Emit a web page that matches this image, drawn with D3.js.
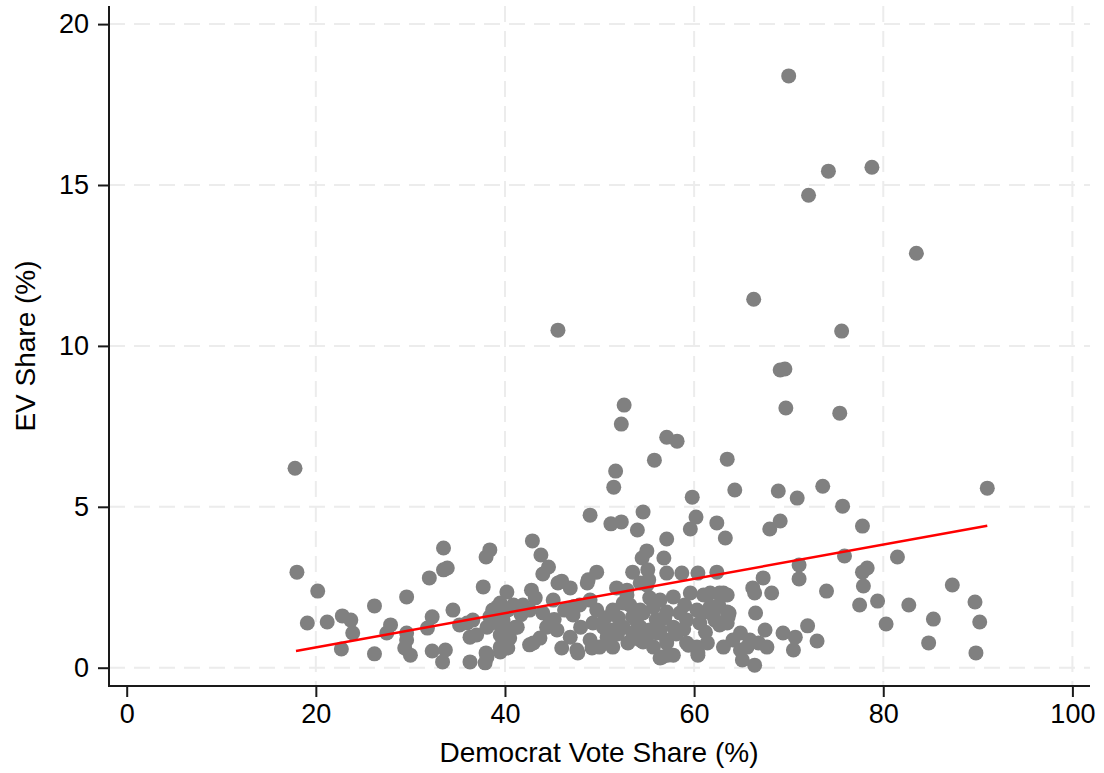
<!DOCTYPE html>
<html lang="en">
<head>
<meta charset="UTF-8">
<title>EV Share vs Democrat Vote Share</title>
<script src="https://d3js.org/d3.v7.min.js"></script>
<style>
  body { margin: 0; background: #fff; }
  svg text { font-family: "Liberation Sans", Arial, Helvetica, sans-serif; fill: #000; }
</style>
</head>
<body>
<div id="chart"></div>
<script>
// Democrat vote share (%) and EV share (%)
var demShare = [
  17.8, 18.0, 20.2, 19.1, 21.2, 22.8, 23.7, 23.9, 22.7, 26.2, 26.2, 27.9, 27.5, 29.6, 29.6, 29.6, 29.4, 30.0,
  31.8, 32.3, 32.3, 32.0, 33.5, 33.9, 33.5, 33.7, 33.4, 34.5, 35.2, 36.0, 36.6, 36.3, 37.0, 36.3, 37.9, 38.0,
  37.7, 38.0, 38.4, 39.5, 40.3, 38.4, 39.2, 39.8, 40.3, 41.1, 40.5, 39.5, 40.2,
  42.9, 43.8, 44.6, 44.0, 46.0, 46.9, 45.6, 42.8, 48.8, 49.7, 49.0, 51.2, 52.3, 54.6, 54.0, 57.1, 55.0, 54.5,
  56.8, 53.5, 55.1, 55.2, 57.1, 58.7, 60.4, 62.4, 51.8, 52.9, 52.6, 52.3, 57.1, 58.2, 55.8, 51.7, 51.5, 59.8,
  60.2, 59.6, 62.4, 63.3, 45.6,
  43.2, 48.7, 55.0, 52.9, 39.5, 38.7, 40.9, 41.9, 38.1, 39.2, 40.2, 41.3, 42.6, 44.0, 45.1, 46.3, 47.2, 44.4,
  45.5, 46.9, 48.0, 43.0, 43.7, 46.0, 47.6, 39.5, 38.1, 49.0, 49.7, 50.4, 49.3, 49.0, 50.0, 51.4, 52.5, 53.5,
  54.6, 55.7, 51.4, 52.5, 53.5, 55.0, 56.1, 51.4, 53.0, 54.6, 55.7, 56.4, 49.2, 47.7, 56.6, 57.2, 57.1, 59.4,
  60.4,
  54.3, 55.3, 56.4, 57.8, 59.6, 61.0, 63.1, 54.3, 57.1, 58.5, 60.3, 61.7, 63.5, 54.3, 55.3, 56.4, 57.8, 59.2,
  60.6, 62.2, 63.6, 54.3, 57.1, 59.2, 60.3, 61.4, 63.1, 64.1, 64.9, 65.9, 66.8, 67.5, 57.8, 60.4, 65.1, 66.4,
  65.6, 64.9,
  63.5, 64.3, 68.9, 70.9, 73.6, 75.7, 91.0, 68.0, 69.1, 77.8, 71.1, 71.1, 75.9, 81.5, 77.8, 78.3, 77.9, 74.0,
  67.3, 66.2, 66.4, 68.2, 61.7, 62.7, 63.5, 60.9, 62.0, 63.7, 62.7, 63.5, 66.5, 77.5, 79.4, 82.7, 87.3, 89.7,
  80.3, 85.3, 90.2, 72.0, 69.4, 70.7, 70.5, 73.0, 84.8, 89.8, 67.7,
  70.0, 78.8, 74.2, 72.1, 83.5, 66.3, 75.6, 69.6, 69.1, 69.7, 75.4, 42.6,
  44.8, 47.9, 50.6, 51.9, 53.9, 56.9, 58.1, 59.0, 61.2, 62.6, 50.8, 52.0, 53.2, 56.0, 58.9, 47.3, 45.2, 41.7
];
var evShare = [
  6.20, 2.97, 2.38, 1.39, 1.42, 1.61, 1.48, 1.08, 0.58, 1.92, 0.43, 1.33, 1.08, 2.20, 1.08, 0.86, 0.61, 0.39,
  1.23, 1.58, 0.52, 2.79, 3.04, 3.10, 3.72, 0.55, 0.18, 1.79, 1.33, 1.39, 1.48, 0.95, 1.02, 0.18, 0.15, 0.46,
  2.51, 3.44, 3.66, 0.49, 0.61, 1.58, 1.89, 1.48, 1.79, 1.26, 0.92, 1.02, 2.35,
  3.94, 3.50, 3.13, 2.91, 2.69, 2.48, 2.63, 2.41, 2.73, 2.97, 4.74, 4.47, 4.53, 4.84, 4.28, 4.00, 3.63, 3.41,
  3.41, 2.97, 3.04, 2.73, 2.94, 2.94, 2.94, 2.97, 2.48, 2.41, 8.16, 7.57, 7.16, 7.04, 6.45, 6.11, 5.61, 5.30,
  4.68, 4.31, 4.50, 4.03, 10.49,
  2.17, 2.63, 2.57, 2.26, 2.01, 1.79, 1.95, 1.95, 1.26, 1.39, 1.17, 1.26, 1.79, 1.70, 2.10, 1.79, 1.64, 1.26,
  1.17, 0.95, 1.26, 0.77, 0.92, 0.61, 0.55, 0.64, 0.33, 2.10, 1.79, 1.26, 1.39, 0.86, 0.64, 1.79, 2.01, 1.58,
  1.70, 1.89, 1.17, 1.26, 1.08, 0.95, 1.08, 0.64, 0.77, 0.80, 0.64, 0.30, 0.61, 0.46, 0.33, 0.39, 0.77, 0.70,
  0.46,
  2.63, 2.17, 2.10, 2.20, 2.32, 2.26, 2.32, 1.79, 1.73, 1.70, 1.79, 1.89, 1.73, 1.26, 1.17, 1.17, 1.26, 1.48,
  1.39, 1.48, 1.58, 0.86, 0.86, 0.77, 0.64, 0.77, 0.64, 0.86, 1.08, 0.86, 0.77, 1.17, 0.39, 0.39, 0.24, 0.08,
  0.64, 0.55,
  6.48, 5.52, 5.49, 5.27, 5.64, 5.02, 5.58, 4.31, 4.56, 4.40, 3.19, 2.76, 3.47, 3.44, 2.97, 3.10, 2.54, 2.38,
  2.79, 2.48, 2.32, 2.32, 2.32, 2.32, 2.26, 1.70, 1.64, 1.70, 1.33, 1.39, 1.70, 1.95, 2.07, 1.95, 2.57, 2.04,
  1.36, 1.51, 1.42, 1.30, 1.08, 0.95, 0.55, 0.83, 0.77, 0.46, 0.64,
  18.39, 15.55, 15.43, 14.68, 12.88, 11.45, 10.46, 9.28, 9.25, 8.07, 7.91, 0.71,
  1.45, 1.95, 1.55, 1.05, 1.45, 1.55, 1.05, 1.95, 1.10, 1.95, 0.95, 1.55, 1.95, 1.50, 1.20, 1.90, 1.50, 1.65
];

// fitted line endpoints (x, y) as drawn in the chart
var fitX = [17.9, 91.0];
var fitY = [0.52, 4.41];

var xTicks = [0, 20, 40, 60, 80, 100];
var yTicks = [0, 5, 10, 15, 20];

var w = 1104, h = 773;
var plotLeft = 109, plotRight = 1090, plotTop = 6, plotBottom = 686;

var xScale = d3.scaleLinear().domain([0, 100]).range([126.7, 1072.4]);
var yScale = d3.scaleLinear().domain([0, 20]).range([667.7, 24.1]);

var svg = d3.select("#chart").append("svg").attr("width", w).attr("height", h);

// grid
svg.append("g").selectAll("line")
  .data(yTicks).enter().append("line")
  .attr("x1", plotLeft).attr("x2", plotRight)
  .attr("y1", d => yScale(d)).attr("y2", d => yScale(d))
  .attr("stroke", "#ececec").attr("stroke-width", 2).attr("stroke-dasharray", "16,9");

svg.append("g").selectAll("line")
  .data(xTicks.filter(d => d > 0)).enter().append("line")
  .attr("y1", plotTop).attr("y2", plotBottom)
  .attr("x1", d => xScale(d)).attr("x2", d => xScale(d))
  .attr("stroke", "#ececec").attr("stroke-width", 2).attr("stroke-dasharray", "16,9");

// points
var pts = demShare.map((d, i) => ({x: d, y: evShare[i]}));
svg.append("g").selectAll("circle")
  .data(pts).enter().append("circle")
  .attr("cx", d => xScale(d.x))
  .attr("cy", d => yScale(d.y))
  .attr("r", 7.5)
  .attr("fill", "#808080");

// fitted line
svg.append("line")
  .attr("x1", xScale(fitX[0])).attr("y1", yScale(fitY[0]))
  .attr("x2", xScale(fitX[1])).attr("y2", yScale(fitY[1]))
  .attr("stroke", "#ff0000").attr("stroke-width", 2.4);

// axes
var xAxis = d3.axisBottom(xScale).tickValues(xTicks).tickSize(11).tickPadding(7);
var gx = svg.append("g").attr("transform", "translate(0," + plotBottom + ")").call(xAxis);
gx.select(".domain").remove();
gx.selectAll("line").attr("stroke", "#1a1a1a").attr("stroke-width", 2);
gx.selectAll("text").attr("font-size", 27).attr("font-family", "Liberation Sans, Arial, sans-serif");

var yAxis = d3.axisLeft(yScale).tickValues(yTicks).tickSize(11).tickPadding(9);
var gy = svg.append("g").attr("transform", "translate(" + plotLeft + ",0)").call(yAxis);
gy.select(".domain").remove();
gy.selectAll("line").attr("stroke", "#1a1a1a").attr("stroke-width", 2);
gy.selectAll("text").attr("font-size", 27).attr("font-family", "Liberation Sans, Arial, sans-serif");

svg.append("line").attr("x1", plotLeft).attr("x2", plotLeft).attr("y1", plotTop).attr("y2", plotBottom + 1)
  .attr("stroke", "#1a1a1a").attr("stroke-width", 2);
svg.append("line").attr("x1", plotLeft - 1).attr("x2", plotRight).attr("y1", plotBottom).attr("y2", plotBottom)
  .attr("stroke", "#1a1a1a").attr("stroke-width", 2);

// axis titles
svg.append("text")
  .attr("x", 599).attr("y", 762)
  .attr("text-anchor", "middle").attr("font-size", 28)
  .text("Democrat Vote Share (%)");

svg.append("text")
  .attr("transform", "translate(35,346) rotate(-90)")
  .attr("text-anchor", "middle").attr("font-size", 28)
  .text("EV Share (%)");
</script>
</body>
</html>
